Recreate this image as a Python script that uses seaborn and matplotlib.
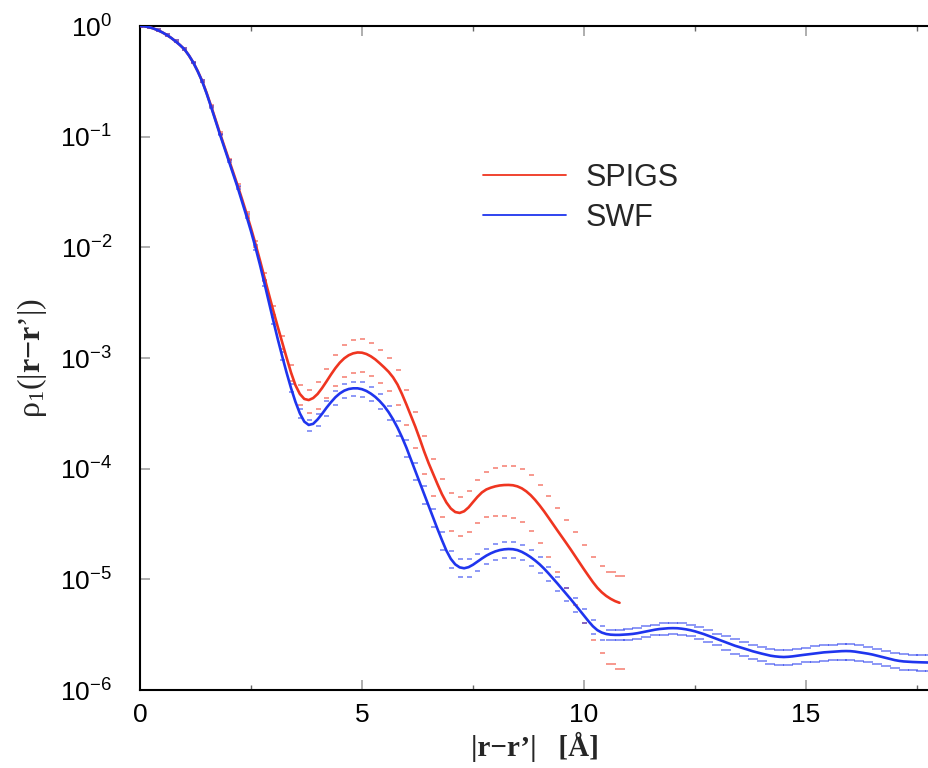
import numpy as np
import pandas as pd
import matplotlib
matplotlib.use("Agg")
import matplotlib.pyplot as plt
import seaborn as sns
from matplotlib.ticker import FixedLocator, NullLocator, MultipleLocator

# ---------------- data ----------------
# log10(rho_1) sampled every 0.1 Angstrom starting at r = 0
series_names = ["SPIGS", "SWF"]
line_step = 0.1
x_ticks = [0, 5, 10, 15]
y_ticks = [1e-6, 1e-5, 1e-4, 1e-3, 1e-2, 1e-1, 1e0]

swf_log = [
    0.000, -0.003, -0.010, -0.022, -0.038, -0.057, -0.080, -0.107, -0.138, -0.172,
    -0.210, -0.265, -0.330, -0.410, -0.500, -0.610, -0.730, -0.855, -0.980, -1.100,
    -1.220, -1.340, -1.460, -1.590, -1.720, -1.855, -2.000, -2.155, -2.320, -2.490,
    -2.660, -2.825, -2.980, -3.130, -3.270, -3.395, -3.500, -3.575, -3.605, -3.595,
    -3.555, -3.505, -3.450, -3.400, -3.355, -3.320, -3.295, -3.280, -3.274, -3.274,
    -3.282, -3.298, -3.322, -3.352, -3.390, -3.435, -3.490, -3.555, -3.630, -3.715,
    -3.810, -3.915, -4.020, -4.125, -4.230, -4.335, -4.440, -4.545, -4.645, -4.740,
    -4.815, -4.865, -4.892, -4.900, -4.890, -4.868, -4.840, -4.812, -4.786, -4.765,
    -4.748, -4.736, -4.729, -4.726, -4.728, -4.736, -4.752, -4.774, -4.800, -4.830,
    -4.864, -4.903, -4.946, -4.991, -5.037, -5.084, -5.131, -5.179, -5.228, -5.278,
    -5.328, -5.378, -5.424, -5.459, -5.481, -5.494, -5.500, -5.502, -5.502, -5.500,
    -5.497, -5.493, -5.487, -5.479, -5.470, -5.462, -5.455, -5.449, -5.445, -5.442,
    -5.441, -5.442, -5.446, -5.452, -5.460, -5.470, -5.482, -5.495, -5.510, -5.525,
    -5.540, -5.555, -5.570, -5.585, -5.600, -5.612, -5.624, -5.637, -5.650, -5.661,
    -5.671, -5.681, -5.690, -5.696, -5.700, -5.702, -5.700, -5.696, -5.690, -5.685,
    -5.680, -5.675, -5.670, -5.665, -5.660, -5.657, -5.654, -5.651, -5.649, -5.648,
    -5.649, -5.653, -5.659, -5.665, -5.672, -5.680, -5.690, -5.700, -5.711, -5.721,
    -5.730, -5.737, -5.742, -5.745, -5.747, -5.749, -5.750, -5.751, -5.752]

spigs_log = [
    0.000, -0.003, -0.010, -0.022, -0.038, -0.057, -0.080, -0.107, -0.138, -0.172,
    -0.210, -0.265, -0.330, -0.408, -0.496, -0.604, -0.722, -0.845, -0.968, -1.088,
    -1.206, -1.324, -1.443, -1.567, -1.695, -1.828, -1.968, -2.115, -2.268, -2.420,
    -2.570, -2.715, -2.855, -2.995, -3.130, -3.245, -3.325, -3.370, -3.380, -3.362,
    -3.325, -3.272, -3.212, -3.150, -3.092, -3.042, -3.003, -2.975, -2.958, -2.950,
    -2.952, -2.964, -2.985, -3.013, -3.048, -3.085, -3.125, -3.175, -3.240, -3.325,
    -3.420, -3.520, -3.620, -3.730, -3.845, -3.950, -4.045, -4.140, -4.230, -4.305,
    -4.360, -4.392, -4.400, -4.385, -4.350, -4.302, -4.255, -4.215, -4.188, -4.172,
    -4.160, -4.152, -4.148, -4.147, -4.150, -4.160, -4.178, -4.205, -4.240, -4.283,
    -4.332, -4.385, -4.442, -4.500, -4.558, -4.615, -4.672, -4.730, -4.790, -4.850,
    -4.910, -4.968, -5.025, -5.076, -5.117, -5.150, -5.176, -5.197, -5.212]

# relative statistical error, one value per 0.2 Angstrom (every second sample)
swf_relerr = [0.02, 0.02, 0.02, 0.02, 0.02, 0.02, 0.02, 0.02, 0.02, 0.02,
              0.02, 0.03, 0.04, 0.05, 0.06, 0.07, 0.08, 0.09, 0.10, 0.12,
              0.13, 0.15, 0.15, 0.15, 0.15, 0.15, 0.15, 0.15, 0.15, 0.15,
              0.18, 0.18, 0.18, 0.18, 0.18, 0.18, 0.18, 0.18, 0.18, 0.16,
              0.16, 0.16, 0.16, 0.16, 0.16, 0.16, 0.14, 0.14, 0.14, 0.14,
              0.14, 0.14, 0.14, 0.11, 0.11, 0.11, 0.11, 0.11, 0.11, 0.12,
              0.12, 0.12, 0.12, 0.12, 0.12, 0.12, 0.15, 0.15, 0.15, 0.15,
              0.15, 0.15, 0.15, 0.15, 0.15, 0.15, 0.16, 0.16, 0.16, 0.16,
              0.16, 0.16, 0.16, 0.16, 0.16, 0.16, 0.16, 0.16, 0.16, 0.16]
spigs_relerr = [0.02, 0.02, 0.02, 0.02, 0.02, 0.02, 0.02, 0.02, 0.02, 0.02,
                0.02, 0.03, 0.04, 0.06, 0.08, 0.10, 0.13, 0.17, 0.21, 0.24,
                0.27, 0.29, 0.31, 0.32, 0.33, 0.33, 0.33, 0.33, 0.33, 0.34,
                0.35, 0.36, 0.37, 0.37, 0.38, 0.38, 0.38, 0.40, 0.42, 0.44,
                0.46, 0.48, 0.49, 0.50, 0.52, 0.54, 0.56, 0.58, 0.61, 0.64,
                0.67, 0.70, 0.72, 0.74, 0.75]

colors = {"SPIGS": "#ef3520", "SWF": "#1f35ee"}

# ---------------- frames ----------------
line_frames, cap_frames = [], []
for name, logs, rel in [("SPIGS", spigs_log, spigs_relerr), ("SWF", swf_log, swf_relerr)]:
    x = np.round(np.arange(len(logs)) * line_step, 2)
    y = 10.0 ** np.asarray(logs)
    line_frames.append(pd.DataFrame({"r": x, "rho": y, "series": name}))
    xc, yc = x[::2], y[::2]
    cap_frames.append(pd.DataFrame({"r": xc, "rho": yc, "err": yc * np.asarray(rel),
                                    "series": name}))
df = pd.concat(line_frames, ignore_index=True)
caps = pd.concat(cap_frames, ignore_index=True)

# ---------------- figure ----------------
sns.set_theme(style="ticks")
plt.rcParams["font.family"] = ["Liberation Sans", "DejaVu Sans"]
plt.rcParams["mathtext.fontset"] = "custom"
plt.rcParams["mathtext.rm"] = "Liberation Serif"
plt.rcParams["mathtext.bf"] = "Liberation Serif:bold"
plt.rcParams["mathtext.it"] = "Liberation Serif:italic"

W, H = 929, 768
fig = plt.figure(figsize=(W / 100, H / 100), dpi=100)
ax = fig.add_axes([140 / W, 78 / H, 789 / W, 664 / H])

for name in series_names:
    d = caps[caps.series == name]
    head = d[d.r <= 10.45]
    tail = d[d.r > 10.45]
    ax.errorbar(head.r, head.rho, yerr=head.err, fmt="none", ecolor=colors[name],
                elinewidth=0, capsize=1.8, capthick=1.3, alpha=0.55, zorder=2)
    if len(tail):
        ax.errorbar(tail.r, tail.rho, yerr=tail.err, fmt="none", ecolor=colors[name],
                    elinewidth=0, capsize=3.6, capthick=1.3, alpha=0.55, zorder=2)

sns.lineplot(data=df, x="r", y="rho", hue="series", hue_order=series_names,
             palette=colors, estimator=None, sort=False, linewidth=1.9, ax=ax, zorder=3)

ax.set_yscale("log")
ax.set_xlim(0, 17.77)
ax.set_ylim(1e-6, 1.0)

ax.xaxis.set_major_locator(FixedLocator(x_ticks))
ax.xaxis.set_minor_locator(MultipleLocator(2.5))
ax.yaxis.set_major_locator(FixedLocator(y_ticks))
ax.yaxis.set_minor_locator(NullLocator())

ax.tick_params(axis="both", which="major", direction="in", length=7, width=1.1,
               color="#999999", labelsize=19, labelcolor="black")
ax.tick_params(axis="both", which="minor", direction="in", length=3.4, width=1.0,
               color="#666666")
ax.tick_params(axis="x", which="both", top=True, bottom=True, pad=9)
ax.tick_params(axis="y", which="both", left=True, right=False, pad=20)

for s in ["left", "bottom", "top"]:
    ax.spines[s].set_visible(True)
    ax.spines[s].set_linewidth(1.5)
    ax.spines[s].set_color("black")
ax.spines["right"].set_visible(False)

ax.set_xlabel("|r\u2212r\u2019|   [\u00c5]", fontsize=21, fontweight="bold",
              family="Liberation Serif", labelpad=4)
ax.set_ylabel("$\\mathrm{\u03c1}_1\\mathrm{(}|\\mathbf{r}\\mathbf{-}\\mathbf{r}\u2019|\\mathrm{)}$",
              fontsize=23, labelpad=8)

leg = ax.legend(frameon=False, fontsize=22, loc="center left",
                bbox_to_anchor=(483 / W, 1 - 198 / H), bbox_transform=fig.transFigure,
                handlelength=2.7, handletextpad=0.65, labelspacing=0.32,
                borderpad=0, borderaxespad=0, title=None)
for line in leg.get_lines():
    line.set_linewidth(1.3)

fig.savefig("out.png", dpi=100)
